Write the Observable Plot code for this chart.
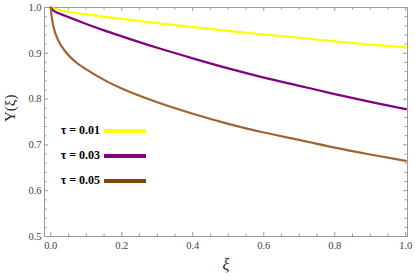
<!DOCTYPE html>
<html>
<head>
<meta charset="utf-8">
<script src="https://cdn.jsdelivr.net/npm/d3@7"></script>
<script src="https://cdn.jsdelivr.net/npm/@observablehq/plot@0.6"></script>
<style>
  html, body { margin: 0; padding: 0; background: #fff; }
  #wrap { position: relative; width: 415px; height: 280px; }
  .leg { position: absolute; font-weight: bold; font-size: 12px; color: #000; }
  .leg span.t { position: absolute; right: 0; white-space: nowrap; }
  .bar { position: absolute; height: 4px; width: 42px; }
</style>
</head>
<body>
<div id="wrap"></div>
<script>
const xi = [0, 0.002, 0.005, 0.01, 0.02, 0.04, 0.07, 0.1, 0.15, 0.2, 0.3, 0.4, 0.5, 0.6, 0.7, 0.8, 0.9, 1.0];
const yTau001 = [1, 0.999, 0.998, 0.997, 0.995, 0.992, 0.988, 0.985, 0.980, 0.975, 0.966, 0.957, 0.949, 0.941, 0.934, 0.926, 0.919, 0.913];
const yTau003 = [1, 0.998, 0.995, 0.992, 0.988, 0.982, 0.973, 0.964, 0.950, 0.937, 0.912, 0.889, 0.867, 0.847, 0.829, 0.811, 0.794, 0.778];
const yTau005 = [1, 0.984, 0.968, 0.951, 0.930, 0.905, 0.881, 0.865, 0.842, 0.823, 0.793, 0.768, 0.746, 0.727, 0.711, 0.694, 0.679, 0.665];
const seriesNames = ["τ = 0.01", "τ = 0.03", "τ = 0.05"];
const seriesColors = ["#ffff00", "#800080", "#9c6634"];
const legendColors = ["#ffff00", "#800080", "#7d4512"];
const xMajor = [0, 0.2, 0.4, 0.6, 0.8, 1.0];
const yMajor = [0.5, 0.6, 0.7, 0.8, 0.9, 1.0];

const xMinor = d3.range(0, 21).map(i => i * 0.05).filter(v => !xMajor.some(m => Math.abs(m - v) < 1e-9));
const yMinor = d3.range(25, 51).map(i => i * 0.02).filter(v => !yMajor.some(m => Math.abs(m - v) < 1e-9));

const allY = [yTau001, yTau003, yTau005];
const rows = [];
allY.forEach((ys, s) => xi.forEach((x, i) => rows.push({x, y: ys[i], s: seriesNames[s]})));

const mT = 7, mB = 44, H = 280;
const frameH = H - mT - mB;
const mL = 44, mR = 8, W = 415;
const frameW = W - mL - mR;
const gray = "#9a9a9a";
const serif = "'Liberation Serif', 'Times New Roman', Times, Tinos, 'DejaVu Serif', serif";

const plot = Plot.plot({
  width: W, height: H,
  marginLeft: mL, marginRight: mR, marginTop: mT, marginBottom: mB,
  x: {domain: [-0.0177, 1.0048], axis: null},
  y: {domain: [0.5, 1.0], axis: null},
  color: {domain: seriesNames, range: seriesColors},
  style: {fontFamily: serif, background: "white"},
  marks: [
    Plot.ruleX(xMajor, {x: d => d, insetTop: frameH - 4, stroke: gray}),
    Plot.ruleX(xMinor, {x: d => d, insetTop: frameH - 2.5, stroke: gray}),
    Plot.ruleX(xMajor, {x: d => d, insetBottom: frameH - 4, stroke: gray}),
    Plot.ruleX(xMinor, {x: d => d, insetBottom: frameH - 2.5, stroke: gray}),
    Plot.ruleY(yMajor, {y: d => d, insetRight: frameW - 4, stroke: gray}),
    Plot.ruleY(yMinor, {y: d => d, insetRight: frameW - 2.5, stroke: gray}),
    Plot.ruleY(yMajor, {y: d => d, insetLeft: frameW - 4, stroke: gray}),
    Plot.ruleY(yMinor, {y: d => d, insetLeft: frameW - 2.5, stroke: gray}),
    Plot.frame({stroke: gray, strokeWidth: 1}),
    Plot.axisX({ticks: xMajor, tickSize: 0, tickPadding: 5, tickFormat: d3.format(".1f"), fontSize: 10.5, fill: "#444", fontFamily: serif, label: null}),
    Plot.axisY({ticks: yMajor, tickSize: 0, tickPadding: 3, tickFormat: d3.format(".1f"), fontSize: 10.5, fill: "#444", fontFamily: serif, label: null}),
    Plot.line(rows, {x: "x", y: "y", z: "s", stroke: "s", strokeWidth: 2.2, curve: "monotone-x"}),
    Plot.text(["ξ"], {frameAnchor: "bottom", dy: 33, fontSize: 16, fontStyle: "italic", fontFamily: serif, fill: "#222"}),
    Plot.text(["Y(ξ)"], {frameAnchor: "left", dx: -34, rotate: -90, fontSize: 15, fontFamily: serif, fill: "#222"})
  ]
});

const wrap = document.getElementById("wrap");
wrap.appendChild(plot);

const legRowsY = [131, 156, 181];
seriesNames.forEach((name, i) => {
  const t = document.createElement("div");
  t.className = "leg";
  t.style.fontFamily = serif;
  t.style.left = "0px";
  t.style.width = "100px";
  t.style.top = (legRowsY[i] - 8) + "px";
  t.innerHTML = `<span class="t">${name}</span>`;
  wrap.appendChild(t);
  const b = document.createElement("div");
  b.className = "bar";
  b.style.left = "104px";
  b.style.top = (legRowsY[i] - 2) + "px";
  b.style.background = legendColors[i];
  wrap.appendChild(b);
});
</script>
</body>
</html>
